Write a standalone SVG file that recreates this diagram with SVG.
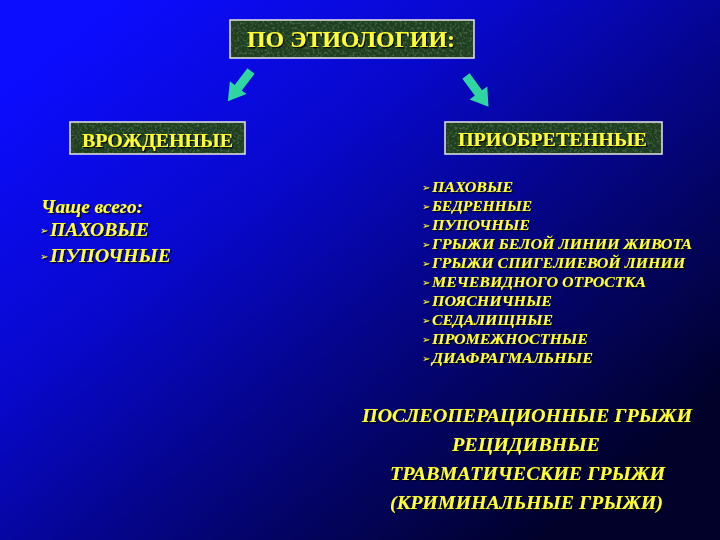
<svg xmlns="http://www.w3.org/2000/svg" width="720" height="540" viewBox="0 0 720 540">
<defs>
<linearGradient id="bg" gradientUnits="userSpaceOnUse" x1="110" y1="0" x2="540" y2="540">
<stop offset="0" stop-color="#0c0cff"/>
<stop offset="0.35" stop-color="#0808cc"/>
<stop offset="0.7" stop-color="#040472"/>
<stop offset="1" stop-color="#01012a"/>
</linearGradient>
<filter id="sh" x="-5%" y="-20%" width="110%" height="150%">
<feDropShadow dx="1.3" dy="1.3" stdDeviation="0.5" flood-color="#000010" flood-opacity="0.9"/>
</filter>
<filter id="noise" x="0" y="0" width="100%" height="100%">
<feTurbulence type="fractalNoise" baseFrequency="0.4" numOctaves="2" seed="3"/>
<feColorMatrix type="matrix" values="0 0 0 0 0.18  0 0 0 0 0.4  0 0 0 0 0.2  0 0 0 1.2 -0.55"/>
<feComposite in2="SourceGraphic" operator="in"/>
</filter>
</defs>
<style>
.box{fill:#1f3d1f;stroke:#e8e8e8;stroke-width:1.5}
.tex{fill:#000;filter:url(#noise)}
.t{fill:#ffff33;font-family:"Liberation Serif","Times New Roman",serif;font-weight:bold;filter:url(#sh)}
.it{font-style:italic}
.b{fill:#ffff33;font-family:"DejaVu Sans",sans-serif;font-size:10px;filter:url(#sh)}
.arr{fill:#2fd6a0}
</style>
<rect x="0" y="0" width="720" height="540" fill="url(#bg)"/>

<g id="connectors">
<polygon class="arr" transform="translate(251,71) rotate(127.5)" points="0,-4.5 21,-4.5 21,-10.5 38,0 21,10.5 21,4.5 0,4.5"/>
<polygon class="arr" transform="translate(466,76) rotate(53.7)" points="0,-4.5 21,-4.5 21,-11 38,0 21,11 21,4.5 0,4.5"/>
</g>

<g id="node-etiology">
<rect class="box" x="230" y="20" width="244" height="38"/>
<rect class="tex" x="231" y="21" width="242" height="36"/>
<text class="t" x="247" y="47" font-size="24" textLength="208" lengthAdjust="spacingAndGlyphs">ПО ЭТИОЛОГИИ:</text>
</g>

<g id="node-congenital">
<rect class="box" x="70" y="122" width="175" height="32"/>
<rect class="tex" x="71" y="123" width="173" height="30"/>
<text class="t" x="82" y="146.5" font-size="19" textLength="151" lengthAdjust="spacingAndGlyphs">ВРОЖДЕННЫЕ</text>
</g>

<g id="node-acquired">
<rect class="box" x="445" y="122" width="217" height="32"/>
<rect class="tex" x="446" y="123" width="215" height="30"/>
<text class="t" x="458" y="146" font-size="19" textLength="189" lengthAdjust="spacingAndGlyphs">ПРИОБРЕТЕННЫЕ</text>
</g>

<g id="congenital-list">
<text class="t it" x="41" y="213" font-size="19" font-weight="normal" textLength="102" lengthAdjust="spacingAndGlyphs">Чаще всего:</text>
<text class="b" x="40" y="234">➢</text>
<text class="t it" x="50" y="236" font-size="19" textLength="99" lengthAdjust="spacingAndGlyphs">ПАХОВЫЕ</text>
<text class="b" x="40" y="260">➢</text>
<text class="t it" x="50" y="262" font-size="19" textLength="121" lengthAdjust="spacingAndGlyphs">ПУПОЧНЫЕ</text>
</g>

<g id="acquired-list">
<text class="b" x="422" y="191">➢</text><text class="t it" x="432" y="192" font-size="15" textLength="81" lengthAdjust="spacingAndGlyphs">ПАХОВЫЕ</text>
<text class="b" x="422" y="210">➢</text><text class="t it" x="432" y="211" font-size="15" textLength="100" lengthAdjust="spacingAndGlyphs">БЕДРЕННЫЕ</text>
<text class="b" x="422" y="229">➢</text><text class="t it" x="432" y="230" font-size="15" textLength="98" lengthAdjust="spacingAndGlyphs">ПУПОЧНЫЕ</text>
<text class="b" x="422" y="248">➢</text><text class="t it" x="432" y="249" font-size="15" textLength="260" lengthAdjust="spacingAndGlyphs">ГРЫЖИ БЕЛОЙ ЛИНИИ ЖИВОТА</text>
<text class="b" x="422" y="267">➢</text><text class="t it" x="432" y="268" font-size="15" textLength="253" lengthAdjust="spacingAndGlyphs">ГРЫЖИ СПИГЕЛИЕВОЙ ЛИНИИ</text>
<text class="b" x="422" y="286">➢</text><text class="t it" x="432" y="287" font-size="15" textLength="214" lengthAdjust="spacingAndGlyphs">МЕЧЕВИДНОГО ОТРОСТКА</text>
<text class="b" x="422" y="305">➢</text><text class="t it" x="432" y="306" font-size="15" textLength="120" lengthAdjust="spacingAndGlyphs">ПОЯСНИЧНЫЕ</text>
<text class="b" x="422" y="324">➢</text><text class="t it" x="432" y="325" font-size="15" textLength="121" lengthAdjust="spacingAndGlyphs">СЕДАЛИЩНЫЕ</text>
<text class="b" x="422" y="343">➢</text><text class="t it" x="432" y="344" font-size="15" textLength="156" lengthAdjust="spacingAndGlyphs">ПРОМЕЖНОСТНЫЕ</text>
<text class="b" x="422" y="362">➢</text><text class="t it" x="432" y="363" font-size="15" textLength="161" lengthAdjust="spacingAndGlyphs">ДИАФРАГМАЛЬНЫЕ</text>
</g>

<g id="other-types">
<text class="t it" x="362" y="422" font-size="19" textLength="330" lengthAdjust="spacingAndGlyphs">ПОСЛЕОПЕРАЦИОННЫЕ ГРЫЖИ</text>
<text class="t it" x="452" y="451" font-size="19" textLength="148" lengthAdjust="spacingAndGlyphs">РЕЦИДИВНЫЕ</text>
<text class="t it" x="390" y="479.5" font-size="19" textLength="275" lengthAdjust="spacingAndGlyphs">ТРАВМАТИЧЕСКИЕ ГРЫЖИ</text>
<text class="t it" x="390" y="508.5" font-size="19" textLength="273" lengthAdjust="spacingAndGlyphs">(КРИМИНАЛЬНЫЕ ГРЫЖИ)</text>
</g>
</svg>
